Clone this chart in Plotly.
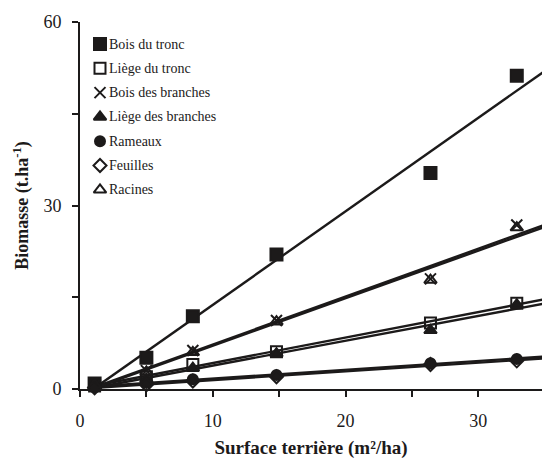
import numpy as np
import plotly.graph_objects as go

# Basal area (m²/ha) of the sampled stands
surface_terriere = [1.1, 5.0, 8.5, 14.8, 26.4, 32.9]

# Biomass per compartment (t/ha)
bois_tronc = [0.9, 5.1, 11.9, 22.0, 35.3, 51.2]
liege_tronc = [0.5, 2.0, 4.0, 6.1, 10.8, 14.0]
bois_branches = [0.8, 3.0, 6.3, 11.2, 18.0, 26.8]
liege_branches = [0.4, 1.6, 3.4, 5.8, 9.6, 13.8]
rameaux = [0.3, 1.0, 1.6, 2.3, 4.2, 4.9]
feuilles = [0.2, 0.7, 1.3, 2.0, 4.0, 4.6]
racines = [0.7, 2.8, 6.0, 11.0, 17.8, 26.4]

noms = ["Bois du tronc", "Liège du tronc", "Bois des branches",
        "Liège des branches", "Rameaux", "Feuilles", "Racines"]
valeurs = [bois_tronc, liege_tronc, bois_branches, liege_branches,
           rameaux, feuilles, racines]
symboles = ["square", "square-open", "x-thin-open", "triangle-up",
            "circle", "diamond-open", "triangle-up-open"]
tailles = [12, 11, 11, 11, 10, 10, 11]

INK = "#1c1a1a"
FONT = "'Liberation Serif', 'Times New Roman', 'DejaVu Serif', serif"
W, H = 542, 459
ML, MR, MT, MB = 80, 0, 22, 70

fig = go.Figure()

# Least-squares regression line for each compartment
x_arr = np.array(surface_terriere)
for y in valeurs:
    pente, origine = np.polyfit(x_arr, np.array(y), 1)
    xs = np.array([x_arr[0], 40.0])
    fig.add_trace(go.Scatter(x=xs, y=pente * xs + origine, mode="lines",
                             line=dict(color=INK, width=2.4),
                             showlegend=False, hoverinfo="skip"))

# Observed values
for nom, y, sym, sz in zip(noms, valeurs, symboles, tailles):
    fig.add_trace(go.Scatter(
        x=surface_terriere, y=y, mode="markers", name=nom,
        marker=dict(symbol=sym, size=sz, color=INK,
                    line=dict(color=INK, width=2)),
        cliponaxis=False, showlegend=False))

# Key in the upper-left corner, drawn on a pixel-scaled overlay axis
key_x = 100
key_y0, key_dy = 44, 24.3
for i, (nom, sym, sz) in enumerate(zip(noms, symboles, tailles)):
    yk = key_y0 + i * key_dy
    fig.add_trace(go.Scatter(
        x=[key_x], y=[yk], xaxis="x2", yaxis="y2", mode="markers",
        marker=dict(symbol=sym, size=sz, color=INK,
                    line=dict(color=INK, width=2)),
        showlegend=False, hoverinfo="skip", cliponaxis=False))
    fig.add_annotation(x=key_x + 7, y=yk, xref="x2", yref="y2",
                       text=nom, showarrow=False, xanchor="left",
                       yanchor="middle",
                       font=dict(family=FONT, size=14, color=INK))

plot_h = H - MT - MB
fig.update_layout(
    width=W, height=H,
    margin=dict(l=ML, r=MR, t=MT, b=MB),
    paper_bgcolor="white", plot_bgcolor="white",
    font=dict(family=FONT, color=INK),
    xaxis=dict(range=[0, 34.8], dtick=10, tick0=0,
               showline=True, linecolor=INK, linewidth=2,
               ticks="outside", ticklen=6, tickwidth=1.5, tickcolor=INK,
               minor=dict(dtick=5, ticks="outside", ticklen=6,
                          tickwidth=1.5, tickcolor=INK),
               showgrid=False, zeroline=False,
               tickfont=dict(family=FONT, size=18, color=INK),
               ticklabelstandoff=8,
               title=dict(text="Surface terrière (m²/ha)",
                          font=dict(family=FONT, size=19, color=INK,
                                    weight="bold"),
                          standoff=11)),
    yaxis=dict(range=[0, 60], dtick=30, tick0=0,
               showline=True, linecolor=INK, linewidth=2,
               ticks="outside", ticklen=6, tickwidth=1.5, tickcolor=INK,
               minor=dict(dtick=15, ticks="outside", ticklen=6,
                          tickwidth=1.5, tickcolor=INK),
               showgrid=False, zeroline=False,
               tickfont=dict(family=FONT, size=18, color=INK),
               ticklabelstandoff=7,
               title=dict(text="Biomasse (t.ha<sup>-1</sup>)",
                          font=dict(family=FONT, size=18, color=INK,
                                    weight="bold"),
                          standoff=10)),
    xaxis2=dict(overlaying="x", range=[ML, W - MR], visible=False,
                fixedrange=True),
    yaxis2=dict(overlaying="y", range=[MT + plot_h, MT], visible=False,
                fixedrange=True),
)

fig.write_html("out.html")
